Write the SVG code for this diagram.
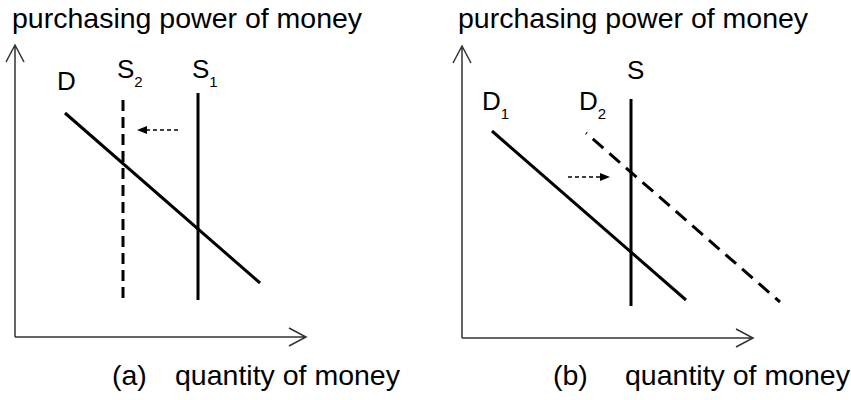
<svg xmlns="http://www.w3.org/2000/svg" width="851" height="400" viewBox="0 0 851 400">
<defs>
<style>
text{font-family:"Liberation Sans",Arial,sans-serif;fill:#000}
.title{font-size:28.5px}
.lab{font-size:26px}
.sub{font-size:15px}
.axis{stroke:#333;stroke-width:1.5;fill:none}
.curve{stroke:#000;stroke-width:3;fill:none}
.dash1{stroke-dasharray:11 6}
.dash2{stroke-dasharray:14 8;stroke-dashoffset:13}
.shift{stroke:#000;stroke-width:1.5;stroke-dasharray:4 3;fill:none}
</style>
<marker id="tri" viewBox="0 0 10 10" refX="9" refY="5" markerWidth="10" markerHeight="10" markerUnits="userSpaceOnUse" orient="auto">
<path d="M0,1 L10,5 L0,9 Z" fill="#000"/>
</marker>
</defs>
<rect width="851" height="400" fill="#fff"/>

<g id="panel-a">
<g id="axes-a">
<path class="axis" d="M15,337 V45 M6,62 L15,45 L24,62"/>
<path class="axis" d="M15,337 H306 M289,328 L306,337 L289,346"/>
<text class="title" x="12" y="28">purchasing power of money</text>
<text class="title" x="112" y="385">(a)</text>
<text class="title" x="175" y="385">quantity of money</text>
</g>
<g id="D-a">
<line class="curve" x1="65" y1="113" x2="260" y2="283"/>
<text class="lab" x="57" y="90">D</text>
</g>
<g id="S2-a">
<line class="curve dash1" x1="123" y1="100" x2="123" y2="300"/>
<text class="lab" x="117" y="78">S<tspan class="sub" dy="9">2</tspan></text>
</g>
<g id="S1-a">
<line class="curve" x1="198" y1="93" x2="198" y2="300"/>
<text class="lab" x="192" y="78">S<tspan class="sub" dy="9">1</tspan></text>
</g>
</g>

<g id="panel-b">
<g id="axes-b">
<path class="axis" d="M462,338 V46 M453,63 L462,46 L471,63"/>
<path class="axis" d="M462,338 H753 M736,329 L753,338 L736,347"/>
<text class="title" x="458" y="28">purchasing power of money</text>
<text class="title" x="553" y="385">(b)</text>
<text class="title" x="625" y="385">quantity of money</text>
</g>
<g id="D1-b">
<line class="curve" x1="492" y1="131" x2="686" y2="300"/>
<text class="lab" x="482" y="110">D<tspan class="sub" dy="9">1</tspan></text>
</g>
<g id="D2-b">
<line class="curve dash2" x1="586" y1="133" x2="780" y2="302"/>
<text class="lab" x="579" y="110">D<tspan class="sub" dy="9">2</tspan></text>
</g>
<g id="S-b">
<line class="curve" x1="631" y1="99" x2="631" y2="306"/>
<text class="lab" x="627" y="79">S</text>
</g>
</g>

<g id="connectors">
<line class="shift" x1="178" y1="130" x2="138" y2="130" marker-end="url(#tri)"/>
<line class="shift" x1="568" y1="177" x2="609" y2="177" marker-end="url(#tri)"/>
</g>
</svg>
